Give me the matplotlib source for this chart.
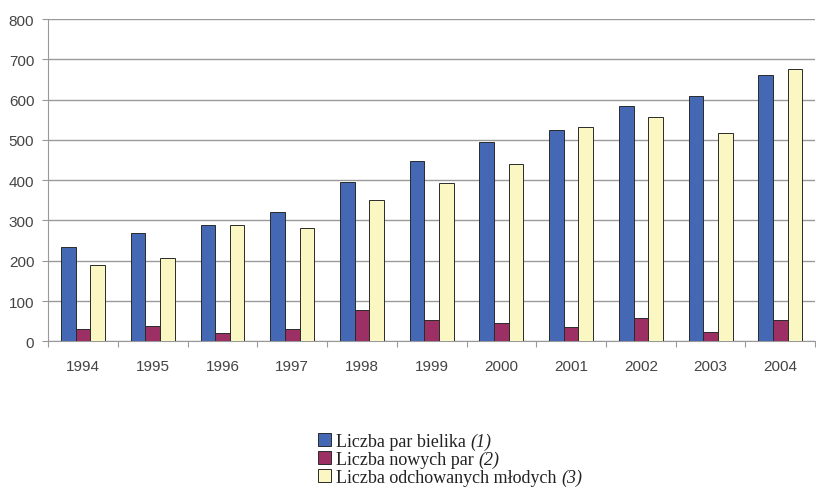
import matplotlib.pyplot as plt
import numpy as np

plt.rcParams['font.family'] = ['Liberation Sans', 'DejaVu Sans']

years = ['1994', '1995', '1996', '1997', '1998', '1999', '2000', '2001', '2002', '2003', '2004']
pary = [233, 269, 288, 320, 396, 448, 494, 525, 585, 609, 661]
nowe = [31, 39, 21, 31, 78, 54, 45, 35, 59, 24, 54]
mlode = [190, 206, 288, 282, 350, 392, 441, 532, 556, 517, 676]
labels = ['Liczba par bielika', 'Liczba nowych par', 'Liczba odchowanych młodych']
numbers = ['(1)', '(2)', '(3)']
colors = ['#4468b4', '#9c2f63', '#fbf7c3']

fig = plt.figure(figsize=(8.16, 4.89), dpi=100)
ax = fig.add_axes([0.059, 0.3, 0.94, 0.659])

x = np.arange(len(years))
w = 0.21
for i, (vals, c, lab) in enumerate(zip([pary, nowe, mlode], colors, labels)):
    ax.bar(x + (i - 1) * w, vals, w, color=c, edgecolor='#2a2a2a', linewidth=0.7,
           label=lab, zorder=3)

ax.set_xlim(-0.5, len(years) - 0.5)
ax.set_ylim(0, 800)
ax.set_yticks(range(0, 801, 100))
ax.yaxis.grid(True, color='#9a9a9a', linewidth=1, zorder=0)
ax.set_xticks(np.arange(-0.5, len(years), 1))
ax.set_xticklabels([])
ax.set_xticks(x, minor=True)
ax.set_xticklabels(years, minor=True)
ax.tick_params(axis='x', which='major', length=4, color='#999999')
ax.tick_params(axis='x', which='minor', length=0, pad=13, labelsize=11, labelcolor='#444444')
ax.tick_params(axis='y', length=4, pad=6, color='#999999', labelsize=11, labelcolor='#444444')
for s in ['top', 'right']:
    ax.spines[s].set_visible(False)
for s in ['left', 'bottom']:
    ax.spines[s].set_color('#999999')

leg = fig.legend(loc='upper left', bbox_to_anchor=(0.39, 0.113), frameon=False,
                 handlelength=0.68, handleheight=0.68, handletextpad=0.3,
                 labelspacing=0.06, borderpad=0, borderaxespad=0,
                 prop={'family': 'Liberation Serif', 'size': 13})

# italic numbers after each legend label
fig.canvas.draw()
inv = fig.transFigure.inverted()
for t, num in zip(leg.get_texts(), numbers):
    t.set_color('#222222')
    bb = t.get_window_extent()
    fx, fy = inv.transform((bb.x1 + 5, bb.y0))
    fig.text(fx, fy, num, ha='left', va='bottom', family='Liberation Serif',
             style='italic', size=13, color='#222222')

fig.savefig('out.png', dpi=100)
